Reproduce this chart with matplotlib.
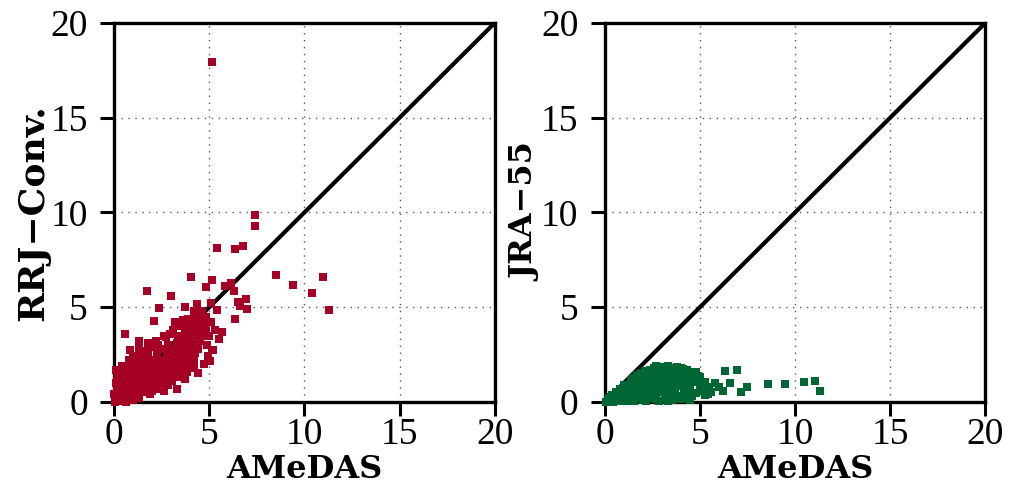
import matplotlib.pyplot as plt

# RRJ-Conv. vs AMeDAS
rrj_x = [0.05, 0.1, 0.15, 0.2, 0.25, 0.3, 0.35, 0.4, 0.45, 0.1, 0.3, 0.45, 0.2,
         0.55, 0.6, 0.65, 0.7, 0.75, 0.8, 0.85, 0.9, 0.95, 0.6, 0.9, 1.0,
         1.05, 1.1, 1.15, 1.2, 1.25, 1.3, 1.35, 1.4, 1.45, 1.1, 1.4, 1.3, 1.5,
         1.55, 1.6, 1.65, 1.7, 1.75, 1.8, 1.85, 1.9, 1.95, 2.0, 1.6, 1.9, 2.0,
         2.05, 2.1, 2.15, 2.2, 2.25, 2.3, 2.35, 2.4, 2.45, 2.3, 2.5, 2.4,
         2.55, 2.6, 2.65, 2.7, 2.75, 2.8, 2.85, 2.9, 2.95, 3.0, 2.7, 2.95, 2.6,
         3.05, 3.1, 3.15, 3.2, 3.25, 3.3, 3.35, 3.4, 3.45, 3.5, 3.1, 3.4, 3.3,
         3.55, 3.6, 3.65, 3.7, 3.75, 3.8, 3.85, 3.9, 3.95, 4.0, 3.6, 3.9, 3.7,
         4.05, 4.1, 4.15, 4.2, 4.25, 4.3, 4.35, 4.4, 4.45, 4.2, 4.5, 4.3,
         4.6, 4.7, 4.8, 4.9, 4.95, 4.7, 4.6,
         0.4, 0.7, 1.0, 1.2, 1.5, 1.8, 2.1, 2.4, 2.7, 3.0, 3.3, 0.8, 1.3,
         1.7, 2.2, 2.6, 2.0, 2.9, 3.2, 1.4, 0.5, 0.25, 0.15,
         0.3, 0.5, 0.7, 0.9, 1.0, 1.2, 1.25, 1.5, 1.6, 1.7, 1.8, 2.0, 2.1,
         2.2, 2.3, 2.5, 2.5, 2.6, 2.8, 2.8, 2.9, 3.0, 3.0, 3.2, 3.2, 3.4,
         3.5, 3.5, 3.6, 3.7, 3.8, 3.8, 4.0, 4.0, 4.1, 4.3, 4.4, 4.6, 4.4,
         4.5, 4.8, 5.0, 5.1, 5.3, 5.5, 2.7, 3.5, 1.9, 1.0, 0.6, 2.6, 3.9,
         4.2, 0.1, 0.2, 0.0, 0.4, 0.8, 1.3, 2.2, 2.6, 3.2, 1.0, 1.8,
         5.13, 7.42, 7.42, 5.40, 6.36, 6.77, 8.52, 9.40, 10.98, 10.40, 11.28,
         4.02, 5.13, 4.83, 6.13, 5.80, 6.27, 1.70, 2.97, 2.37, 3.73, 4.34,
         5.08, 6.49, 6.94, 6.59, 6.98, 6.33, 5.40, 0.56, 1.32, 2.11, 5.66,
         5.17, 5.04, 0.83, 5.14, 4.4]
rrj_y = [0.0, 0.2, 0.5, 0.9, 1.3, 1.6, 0.3, 0.7, 1.1, 1.7, 0.05, 1.8, 0.1,
         0.2, 0.6, 1.0, 1.4, 1.8, 0.4, 0.8, 1.2, 1.6, 1.9, 0.2, 2.0,
         0.4, 0.8, 1.2, 1.6, 2.0, 0.6, 1.0, 1.4, 1.8, 2.3, 2.5, 0.2, 2.2,
         0.5, 0.9, 1.3, 1.7, 2.1, 2.5, 0.7, 1.1, 1.5, 1.9, 2.7, 2.9, 0.6,
         1.0, 1.4, 1.8, 2.2, 2.6, 0.8, 1.2, 1.6, 2.0, 3.0, 2.8, 0.7,
         1.0, 1.4, 1.8, 2.2, 2.6, 3.0, 0.9, 1.3, 1.7, 2.1, 3.4, 3.6, 0.8,
         1.1, 1.5, 1.9, 2.3, 2.7, 3.1, 3.5, 1.3, 1.7, 2.1, 3.8, 4.0, 0.7,
         2.5, 2.9, 3.3, 3.7, 4.1, 1.6, 2.0, 2.4, 2.8, 3.2, 4.3, 4.4, 1.2,
         3.6, 4.0, 4.4, 2.2, 2.6, 3.0, 3.4, 3.8, 4.2, 1.8, 4.6, 4.7,
         3.5, 4.1, 4.5, 3.0, 2.4, 2.0, 4.8,
         0.3, 0.5, 0.7, 0.9, 1.1, 1.3, 1.5, 1.7, 1.9, 2.2, 2.4, 1.0, 1.5,
         1.1, 1.2, 1.9, 1.7, 2.4, 2.0, 1.2, 0.9, 0.6, 1.1,
         1.0, 1.4, 0.9, 1.9, 1.0, 1.1, 1.4, 1.0, 1.5, 2.3, 1.2, 1.3, 2.0,
         1.0, 1.9, 1.2, 2.2, 1.6, 1.5, 2.4, 2.0, 1.3, 2.8, 1.7, 2.5, 2.2,
         2.9, 3.3, 2.0, 2.6, 3.0, 3.5, 2.5, 3.8, 3.3, 3.5, 4.4, 4.3, 2.8,
         3.2, 3.8, 3.5, 4.2, 3.8, 3.3, 1.0, 1.5, 0.4, 0.1, 0.0, 0.6, 3.9,
         4.8, 1.0, 1.5, 0.4, 1.9, 2.2, 2.8, 3.2, 3.5, 4.2, 2.4, 3.1,
         17.96, 9.88, 9.28, 8.12, 8.07, 8.21, 6.68, 6.19, 6.59, 5.76, 4.83,
         6.59, 6.45, 6.06, 6.27, 6.12, 5.85, 5.85, 5.57, 4.96, 5.01, 5.18,
         5.24, 5.27, 5.41, 5.06, 4.89, 4.36, 4.83, 3.60, 3.22, 4.27, 3.69,
         2.76, 2.14, 2.72, 2.73, 1.5]

# JRA-55 vs AMeDAS
jra_x = [0.05, 0.15, 0.25, 0.3, 0.4, 0.5, 0.55, 0.6, 0.7, 0.75, 0.8, 0.9, 0.95,
         1.0, 1.05, 1.1, 1.15, 1.2, 1.25, 1.3, 1.35, 1.4, 1.45, 1.5, 1.55,
         1.6, 1.65, 1.7, 1.75, 1.8, 1.85, 1.9, 1.95, 2.0, 2.05, 2.1, 2.15,
         2.2, 2.25, 2.3, 2.35, 2.4, 2.45, 2.5, 2.55, 2.6, 2.65, 2.7, 2.75,
         2.8, 2.85, 2.9, 2.95, 3.0, 3.05, 3.1, 3.15, 3.2, 3.25, 3.3, 3.35,
         3.4, 3.45, 3.5, 3.55, 3.6, 3.65, 3.7, 3.75, 3.8, 3.85, 3.9, 3.95,
         4.0, 4.05, 4.1, 4.15, 4.2, 4.25, 4.3, 4.4, 4.5, 4.6, 4.7, 4.8,
         4.9, 5.0, 5.1, 5.25, 5.4, 5.5, 5.8, 6.0, 6.2, 6.3, 6.95, 6.6,
         7.15, 7.47, 8.6, 9.47, 10.47, 11.05, 11.3,
         0.35, 0.65, 1.0, 1.3, 1.6, 1.9, 2.2, 2.5, 2.8, 3.1, 3.4, 3.7,
         4.0, 4.3, 4.6, 2.0, 2.7, 3.3, 3.9, 4.5, 5.26, 4.4, 1.2, 0.45,
         0.2, 0.4, 0.6, 0.8, 1.0, 0.5, 0.9, 1.2, 1.4, 1.7, 2.1, 2.4, 2.6,
         2.9, 3.1, 3.3, 3.5, 3.6, 3.8, 4.0, 4.2, 4.3, 4.5, 4.6, 4.8, 5.0,
         5.2, 5.6, 3.0, 2.3, 1.8, 2.7, 3.8, 4.0]
jra_y = [0.02, 0.1, 0.05, 0.25, 0.1, 0.35, 0.05, 0.2, 0.45, 0.1, 0.3, 0.55, 0.05,
         0.25, 0.7, 0.4, 0.1, 0.9, 0.55, 0.2, 1.1, 0.75, 0.35, 1.25, 0.05,
         0.9, 0.5, 1.4, 0.2, 1.05, 0.65, 1.55, 0.3, 1.2, 0.8, 1.65, 0.05,
         0.45, 1.35, 0.95, 1.7, 0.2, 0.6, 1.5, 1.1, 1.8, 0.35, 0.75, 1.3,
         1.65, 0.05, 0.95, 1.85, 0.5, 1.45, 1.15, 0.2, 1.75, 0.8, 1.9, 1.3,
         0.4, 1.6, 1.0, 0.1, 1.8, 0.65, 1.4, 1.1, 0.3, 1.7, 0.85, 1.5,
         0.15, 1.25, 1.75, 0.55, 1.0, 1.55, 0.3, 1.3, 0.75, 1.6, 1.05, 0.45,
         1.35, 0.9, 0.6, 1.05, 0.4, 0.8, 1.0, 0.8, 0.55, 1.63, 1.67, 1.0,
         0.51, 0.8, 0.97, 0.97, 1.07, 1.1, 0.58,
         0.15, 0.25, 0.45, 0.6, 0.7, 0.4, 0.9, 0.3, 1.2, 0.6, 0.75, 0.5,
         1.0, 0.9, 0.3, 0.1, 0.15, 0.05, 0.2, 0.1, 0.35, 0.2, 0.05, 0.02,
         0.2, 0.35, 0.5, 0.7, 0.9, 0.15, 0.35, 0.3, 1.1, 0.9, 1.3, 1.0, 1.4,
         1.6, 0.8, 1.55, 1.7, 1.2, 1.5, 1.4, 1.3, 1.7, 1.45, 1.2, 1.6, 1.3,
         0.8, 0.5, 1.7, 1.5, 1.3, 1.9, 1.85, 1.8]

panels = [
    (rrj_x, rrj_y, "RRJ\u2212Conv.", 26, "#a50026"),
    (jra_x, jra_y, "JRA\u221255", 23, "#006633"),
]
axes_left = [0.112, 0.593]

fig = plt.figure(figsize=(10.2, 4.98), dpi=100)

for (xs, ys, ylabel, ysize, color), left in zip(panels, axes_left):
    ax = fig.add_axes([left, 0.193, 0.373, 0.761])
    ax.plot([0, 20], [0, 20], color="black", lw=3, zorder=2,
            marker="o", markersize=3, solid_capstyle="butt")
    ax.scatter(xs, ys, marker="s", s=30, color=color, lw=0, zorder=3,
               clip_on=False)
    ax.set_xlim(0, 20)
    ax.set_ylim(0, 20)
    ax.set_xticks([0, 5, 10, 15, 20])
    ax.set_yticks([0, 5, 10, 15, 20])
    for v in [5, 10, 15]:
        ax.axvline(v, color="#555555", lw=1, ls=(0, (1, 4)), zorder=1)
        ax.axhline(v, color="#555555", lw=1, ls=(0, (1, 4)), zorder=1)
    for sp in ax.spines.values():
        sp.set_linewidth(2.4)
    ax.tick_params(axis="both", direction="out", length=10, width=2.2,
                   top=False, right=False)
    ax.tick_params(axis="x", pad=1)
    ax.tick_params(axis="y", pad=9)
    for lab in ax.get_xticklabels() + ax.get_yticklabels():
        lab.set_family("Liberation Serif")
        lab.set_fontsize(27)
    ax.set_xlabel("AMeDAS", family="DejaVu Serif", weight="bold",
                  fontsize=23, labelpad=2)
    ax.set_ylabel(ylabel, family="DejaVu Serif", weight="bold",
                  fontsize=ysize, labelpad=0)

plt.savefig("out.png", dpi=100)
